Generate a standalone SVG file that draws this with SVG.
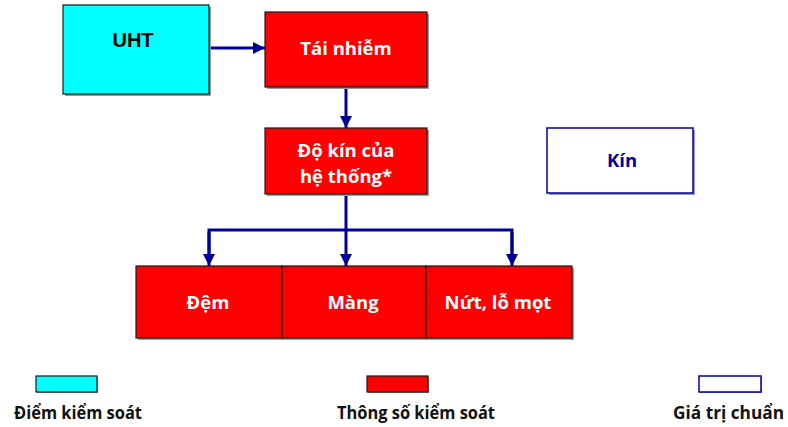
<svg xmlns="http://www.w3.org/2000/svg" width="788" height="427" viewBox="0 0 788 427">
  <style>
    .shadow { fill: #9a9a9a; }
    .ctrl { fill: #00ffff; stroke: #1a1a1a; stroke-width: 1.2; }
    .param { fill: #ff0000; stroke: #1a1a1a; stroke-width: 1.2; }
    .std { fill: #ffffff; stroke: #000099; stroke-width: 1.5; }
    .lbl { font-family: "Open Sans", "Noto Sans", sans-serif; font-weight: bold; font-size: 18.5px; fill: #ffffff; text-anchor: middle; }
    .lblblue { font-family: "Open Sans", "Noto Sans", sans-serif; font-weight: bold; font-size: 18.5px; fill: #000099; text-anchor: middle; }
    .uht { font-family: "Liberation Sans", Arial, sans-serif; font-weight: bold; font-size: 20px; fill: #000000; text-anchor: middle; }
    .legend { font-family: "Open Sans", "Noto Sans", sans-serif; font-weight: bold; font-size: 17px; fill: #111111; }
    .conn { fill: none; stroke: #000099; stroke-width: 3; }
  </style>
  <defs>
    <marker id="arrow" viewBox="0 0 12 12" refX="12" refY="6" markerWidth="12" markerHeight="12" markerUnits="userSpaceOnUse" orient="auto">
      <path d="M0,0 L12,6 L0,12 Z" fill="#000099"/>
    </marker>
  </defs>
  <rect width="788" height="427" fill="#ffffff"/>

  <!-- connectors -->
  <g id="connectors">
    <line class="conn" x1="209" y1="48" x2="265" y2="48" marker-end="url(#arrow)"/>
    <line class="conn" x1="346" y1="87" x2="346" y2="128" marker-end="url(#arrow)"/>
    <line class="conn" x1="346" y1="194" x2="346" y2="266" marker-end="url(#arrow)"/>
    <polyline class="conn" points="209,254 209,230 512,230 512,254"/>
    <line class="conn" x1="209" y1="232" x2="209" y2="266" marker-end="url(#arrow)"/>
    <line class="conn" x1="512" y1="232" x2="512" y2="266" marker-end="url(#arrow)"/>
  </g>

  <!-- control point -->
  <g id="uht">
    <rect class="shadow" x="65" y="7" width="146" height="89"/>
    <rect class="ctrl" x="63" y="5" width="146" height="89"/>
    <text class="uht" x="133" y="47">UHT</text>
  </g>

  <g id="tai-nhiem">
    <rect class="shadow" x="267" y="14" width="162" height="75"/>
    <rect class="param" x="265" y="12" width="162" height="75"/>
    <text class="lbl" x="346" y="55">Tái nhiễm</text>
  </g>

  <g id="do-kin">
    <rect class="shadow" x="267" y="130" width="162" height="66"/>
    <rect class="param" x="265" y="128" width="162" height="66"/>
    <text class="lbl" x="346" y="157">Độ kín của</text>
    <text class="lbl" x="346" y="183">hệ thống*</text>
  </g>

  <g id="kin">
    <rect x="549" y="130" width="146" height="65" fill="#9999cc"/>
    <rect class="std" x="547" y="128" width="146" height="65"/>
    <text class="lblblue" x="622" y="167">Kín</text>
  </g>

  <g id="dem">
    <rect class="shadow" x="138" y="268" width="146" height="72"/>
    <rect class="param" x="136" y="266" width="146" height="72"/>
    <text class="lbl" x="208" y="309">Đệm</text>
  </g>

  <g id="mang">
    <rect class="shadow" x="284" y="268" width="144" height="72"/>
    <rect class="param" x="282" y="266" width="144" height="72"/>
    <text class="lbl" x="353" y="309">Màng</text>
  </g>

  <g id="nut-lo-mot">
    <rect class="shadow" x="428" y="268" width="146" height="72"/>
    <rect class="param" x="426" y="266" width="146" height="72"/>
    <text class="lbl" x="498" y="309">Nứt, lỗ mọt</text>
  </g>

  <!-- legend -->
  <g id="legend">
    <rect class="shadow" x="37" y="377" width="61" height="16"/>
    <rect class="ctrl" x="36" y="376" width="61" height="16"/>
    <text class="legend" x="14" y="419" textLength="128" lengthAdjust="spacingAndGlyphs">Điểm kiểm soát</text>

    <rect class="shadow" x="368" y="377" width="61" height="16"/>
    <rect class="param" x="367" y="376" width="61" height="16"/>
    <text class="legend" x="337" y="419" textLength="158" lengthAdjust="spacingAndGlyphs">Thông số kiểm soát</text>

    <rect x="700" y="377" width="62" height="16" fill="#9999cc"/>
    <rect class="std" x="699" y="376" width="62" height="16"/>
    <text class="legend" x="673" y="419" textLength="111" lengthAdjust="spacingAndGlyphs">Giá trị chuẩn</text>
  </g>
</svg>
